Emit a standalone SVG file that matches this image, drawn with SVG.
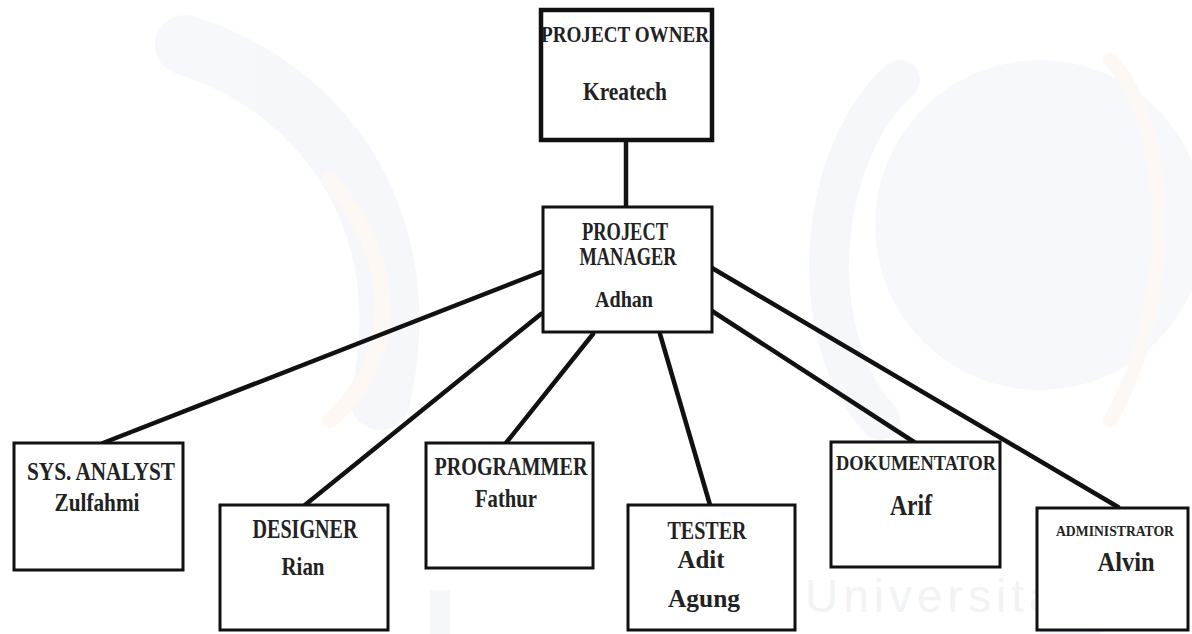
<svg xmlns="http://www.w3.org/2000/svg" width="1192" height="634" viewBox="0 0 1192 634">
<style>
.box{fill:#fff;stroke:#111;stroke-width:3}
.thick{stroke-width:4.5}
.t{font-family:"Liberation Serif","Times New Roman",serif;font-weight:bold;fill:#222;text-anchor:middle}
.conn{stroke:#111;stroke-width:4.5;fill:none;stroke-linecap:round}
.wm{fill:none;stroke-linecap:round}
</style>
<rect width="1192" height="634" fill="#fff"/>
<g id="watermark" opacity="0.55">
<path class="wm" d="M185 45 C330 90 420 230 380 400" stroke="#eef2f8" stroke-width="60"/>
<path class="wm" d="M330 180 C400 260 400 360 330 420" stroke="#fdf3ec" stroke-width="16"/>
<circle cx="1040" cy="225" r="165" fill="#f1f4f9"/>
<path class="wm" d="M900 80 C820 150 800 330 880 420" stroke="#eef2f8" stroke-width="40"/>
<path class="wm" d="M1110 60 C1170 120 1180 300 1110 420" stroke="#fdf3ec" stroke-width="14"/>
<rect x="430" y="590" width="20" height="44" fill="#eef2f8"/>
<rect x="1040" y="598" width="60" height="36" fill="#eef2f8"/>
<text x="805" y="612" font-family="Liberation Sans, Arial, sans-serif" font-size="46" fill="#e6eaef" letter-spacing="5">Universitas</text>
</g>
<g id="connectors">
<line class="conn" x1="626" y1="142" x2="626" y2="207"/>
<line class="conn" x1="541" y1="272" x2="103" y2="443"/>
<line class="conn" x1="541" y1="314" x2="305" y2="505"/>
<line class="conn" x1="593" y1="334" x2="506" y2="443"/>
<line class="conn" x1="660" y1="334" x2="710" y2="505"/>
<line class="conn" x1="712" y1="311" x2="914" y2="442"/>
<line class="conn" x1="712" y1="268" x2="1118" y2="507"/>
</g>
<g id="owner">
<rect class="box thick" x="541" y="10" width="171" height="130"/>
<text class="t" x="625" y="42" font-size="24" textLength="168" lengthAdjust="spacingAndGlyphs">PROJECT OWNER</text>
<text class="t" x="625" y="100" font-size="26" textLength="84" lengthAdjust="spacingAndGlyphs">Kreatech</text>
</g>
<g id="manager">
<rect class="box" x="543" y="207" width="169" height="125"/>
<text class="t" x="625" y="240" font-size="25" textLength="86" lengthAdjust="spacingAndGlyphs">PROJECT</text>
<text class="t" x="628" y="265" font-size="25" textLength="97" lengthAdjust="spacingAndGlyphs">MANAGER</text>
<text class="t" x="624" y="307" font-size="24" textLength="58" lengthAdjust="spacingAndGlyphs">Adhan</text>
</g>
<g id="analyst">
<rect class="box" x="14" y="443" width="169" height="127"/>
<text class="t" x="101" y="480" font-size="26" textLength="148" lengthAdjust="spacingAndGlyphs">SYS. ANALYST</text>
<text class="t" x="97" y="511" font-size="26" textLength="85" lengthAdjust="spacingAndGlyphs">Zulfahmi</text>
</g>
<g id="designer">
<rect class="box" x="220" y="505" width="168" height="125"/>
<text class="t" x="305" y="538" font-size="27" textLength="105" lengthAdjust="spacingAndGlyphs">DESIGNER</text>
<text class="t" x="303" y="575" font-size="26" textLength="43" lengthAdjust="spacingAndGlyphs">Rian</text>
</g>
<g id="programmer">
<rect class="box" x="426" y="443" width="167" height="125"/>
<text class="t" x="511" y="475" font-size="26" textLength="153" lengthAdjust="spacingAndGlyphs">PROGRAMMER</text>
<text class="t" x="506" y="507" font-size="25" textLength="62" lengthAdjust="spacingAndGlyphs">Fathur</text>
</g>
<g id="tester">
<rect class="box" x="628" y="505" width="167" height="125"/>
<text class="t" x="707" y="539" font-size="25" textLength="79" lengthAdjust="spacingAndGlyphs">TESTER</text>
<text class="t" x="701" y="568" font-size="26" textLength="47" lengthAdjust="spacingAndGlyphs">Adit</text>
<text class="t" x="704" y="607" font-size="26" textLength="72" lengthAdjust="spacingAndGlyphs">Agung</text>
</g>
<g id="dokumentator">
<rect class="box" x="831" y="442" width="169" height="125"/>
<text class="t" x="916" y="470" font-size="22" textLength="160" lengthAdjust="spacingAndGlyphs">DOKUMENTATOR</text>
<text class="t" x="911" y="515" font-size="29" textLength="42" lengthAdjust="spacingAndGlyphs">Arif</text>
</g>
<g id="administrator">
<rect class="box" x="1037" y="508" width="151" height="122"/>
<text class="t" x="1115" y="536" font-size="14" textLength="118" lengthAdjust="spacingAndGlyphs">ADMINISTRATOR</text>
<text class="t" x="1126" y="571" font-size="28" textLength="57" lengthAdjust="spacingAndGlyphs">Alvin</text>
</g>
</svg>
